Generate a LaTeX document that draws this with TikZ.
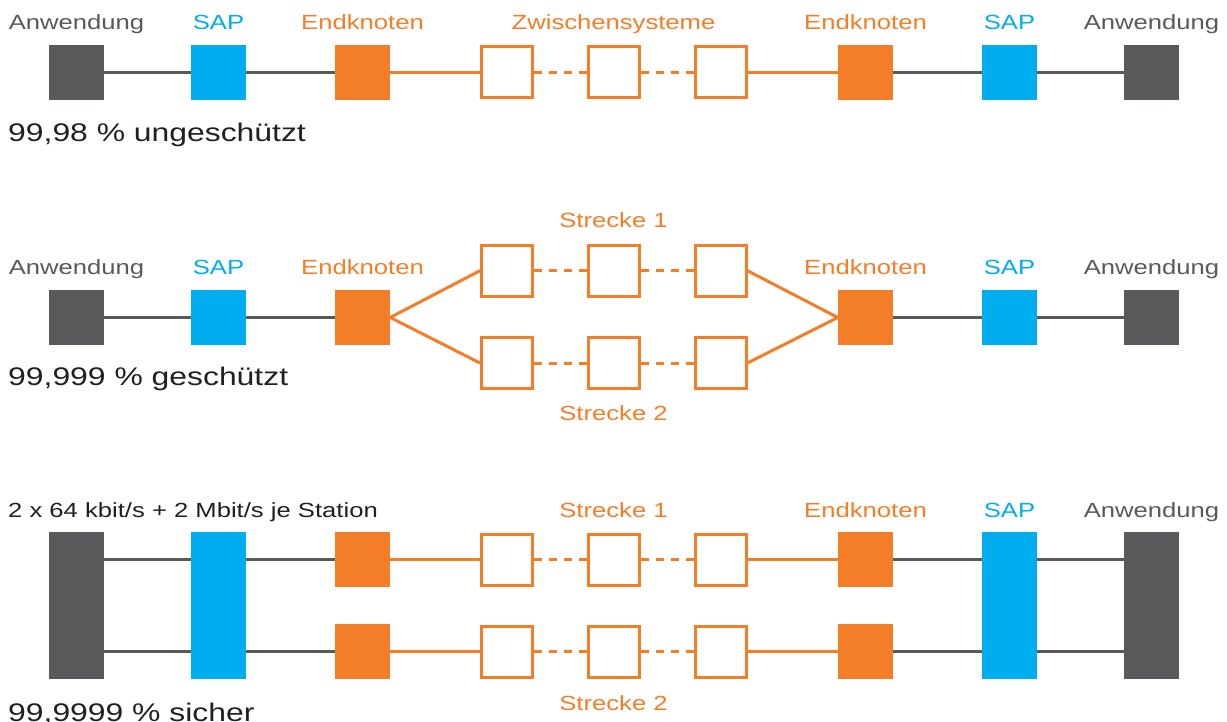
\documentclass[tikz,border=0pt]{standalone}
\usepackage{fontspec}
\setmainfont{Liberation Sans}[FakeStretch=1.25]
\usetikzlibrary{positioning}
\definecolor{appgray}{HTML}{58595B}
\definecolor{sapblue}{HTML}{00AEEF}
\definecolor{endorange}{HTML}{F47D28}
\definecolor{txtblack}{HTML}{231F20}

\begin{document}
\begin{tikzpicture}[
  x=1pt, y=-1pt,
  every node/.style={font=\fontsize{20.5}{24}\selectfont},
  blk/.style={inner sep=0pt,minimum size=55pt},
  app/.style={blk,fill=appgray},
  sap/.style={blk,fill=sapblue},
  endk/.style={blk,fill=endorange},
  tall/.style={minimum height=147pt},
  zwi/.style={draw=endorange,line width=3pt,fill=white,inner sep=0pt,minimum size=51pt},
  lbl/.style={anchor=base,inner sep=0pt},
  note/.style={anchor=base west,inner sep=0pt,text=txtblack},
  rate/.style={note,font=\fontsize{25.5}{30}\selectfont},
  gline/.style={draw=appgray,line width=2.8pt},
  oline/.style={draw=endorange,line width=3pt},
  dline/.style={oline,dash pattern=on 8pt off 7pt}]
\useasboundingbox (0,0) rectangle (1227,722);
\node[app] (app1l) at (76.5,72.5) {};
\node[sap] (sap1l) at (218.5,72.5) {};
\node[endk] (end1l) at (362.5,72.5) {};
\node[zwi] (z1a) at (507,72.5) {};
\node[zwi] (z1b) at (613.5,72.5) {};
\node[zwi] (z1c) at (720.5,72.5) {};
\node[endk] (end1r) at (865.5,72.5) {};
\node[sap] (sap1r) at (1009.5,72.5) {};
\node[app] (app1r) at (1151.5,72.5) {};
\node[lbl,text=appgray] (t1a) at (app1l |- 0,30) {Anwendung};
\node[lbl,text=sapblue] (t1b) at (sap1l |- 0,30) {SAP};
\node[lbl,text=endorange] (t1c) at (end1l |- 0,30) {Endknoten};
\node[lbl,text=endorange] (t1d) at (z1b |- 0,30) {Zwischensysteme};
\node[lbl,text=endorange] (t1e) at (end1r |- 0,30) {Endknoten};
\node[lbl,text=sapblue] (t1f) at (sap1r |- 0,30) {SAP};
\node[lbl,text=appgray] (t1g) at (app1r |- 0,30) {Anwendung};
\node[rate] (r1) at (8,142) {99,98 \% ungeschützt};
\draw[gline] (app1l) -- (sap1l);
\draw[gline] (sap1l) -- (end1l);
\draw[oline] (end1l) -- (z1a);
\draw[dline] (z1a) -- (z1b);
\draw[dline] (z1b) -- (z1c);
\draw[oline] (z1c) -- (end1r);
\draw[gline] (end1r) -- (sap1r);
\draw[gline] (sap1r) -- (app1r);

\node[app] (app2l) at (76.5,317.5) {};
\node[sap] (sap2l) at (218.5,317.5) {};
\node[endk] (end2l) at (362.5,317.5) {};
\node[zwi] (z2a) at (507,270.7) {};
\node[zwi] (z2b) at (613.5,270.7) {};
\node[zwi] (z2c) at (720.5,270.7) {};
\node[zwi] (z2d) at (507,363) {};
\node[zwi] (z2e) at (613.5,363) {};
\node[zwi] (z2f) at (720.5,363) {};
\node[endk] (end2r) at (865.5,317.5) {};
\node[sap] (sap2r) at (1009.5,317.5) {};
\node[app] (app2r) at (1151.5,317.5) {};
\node[lbl,text=appgray] (t2a) at (app2l |- 0,275) {Anwendung};
\node[lbl,text=sapblue] (t2b) at (sap2l |- 0,275) {SAP};
\node[lbl,text=endorange] (t2c) at (end2l |- 0,275) {Endknoten};
\node[lbl,text=endorange] (t2d) at (z2b |- 0,228) {Strecke 1};
\node[lbl,text=endorange] (t2e) at (z2e |- 0,420) {Strecke 2};
\node[lbl,text=endorange] (t2f) at (end2r |- 0,275) {Endknoten};
\node[lbl,text=sapblue] (t2g) at (sap2r |- 0,275) {SAP};
\node[lbl,text=appgray] (t2h) at (app2r |- 0,275) {Anwendung};
\node[rate] (r2) at (8,385) {99,999 \% geschützt};
\draw[gline] (app2l) -- (sap2l);
\draw[gline] (sap2l) -- (end2l);
\draw[oline] (z2a.west) -- (end2l.east) -- (z2d.west);
\draw[dline] (z2a) -- (z2b);
\draw[dline] (z2b) -- (z2c);
\draw[dline] (z2d) -- (z2e);
\draw[dline] (z2e) -- (z2f);
\draw[oline] (z2c.east) -- (end2r.west) -- (z2f.east);
\draw[gline] (end2r) -- (sap2r);
\draw[gline] (sap2r) -- (app2r);

\node[app,tall] (app3l) at (76.5,605.5) {};
\node[sap,tall] (sap3l) at (218.5,605.5) {};
\node[endk] (end3a) at (362.5,559.5) {};
\node[endk] (end3b) at (362.5,651.5) {};
\node[zwi] (z3a) at (507,559.5) {};
\node[zwi] (z3b) at (613.5,559.5) {};
\node[zwi] (z3c) at (720.5,559.5) {};
\node[zwi] (z3d) at (507,651.5) {};
\node[zwi] (z3e) at (613.5,651.5) {};
\node[zwi] (z3f) at (720.5,651.5) {};
\node[endk] (end3c) at (865.5,559.5) {};
\node[endk] (end3d) at (865.5,651.5) {};
\node[sap,tall] (sap3r) at (1009.5,605.5) {};
\node[app,tall] (app3r) at (1151.5,605.5) {};
\node[note] (t3a) at (8,517) {2 x 64 kbit/s + 2 Mbit/s je Station};
\node[lbl,text=endorange] (t3b) at (z3b |- 0,517) {Strecke 1};
\node[lbl,text=endorange] (t3c) at (z3e |- 0,710) {Strecke 2};
\node[lbl,text=endorange] (t3d) at (end3c |- 0,517) {Endknoten};
\node[lbl,text=sapblue] (t3e) at (sap3r |- 0,517) {SAP};
\node[lbl,text=appgray] (t3f) at (app3r |- 0,517) {Anwendung};
\node[rate] (r3) at (8,721.5) {99,9999 \% sicher};
\draw[gline] (app3l.east |- end3a) -- (sap3l.west |- end3a);
\draw[gline] (app3l.east |- end3b) -- (sap3l.west |- end3b);
\draw[gline] (sap3l.east |- end3a) -- (end3a);
\draw[gline] (sap3l.east |- end3b) -- (end3b);
\draw[oline] (end3a) -- (z3a);
\draw[oline] (end3b) -- (z3d);
\draw[dline] (z3a) -- (z3b);
\draw[dline] (z3b) -- (z3c);
\draw[dline] (z3d) -- (z3e);
\draw[dline] (z3e) -- (z3f);
\draw[oline] (z3c) -- (end3c);
\draw[oline] (z3f) -- (end3d);
\draw[gline] (end3c) -- (sap3r.west |- end3c);
\draw[gline] (end3d) -- (sap3r.west |- end3d);
\draw[gline] (sap3r.east |- end3c) -- (app3r.west |- end3c);
\draw[gline] (sap3r.east |- end3d) -- (app3r.west |- end3d);
\end{tikzpicture}
\end{document}
